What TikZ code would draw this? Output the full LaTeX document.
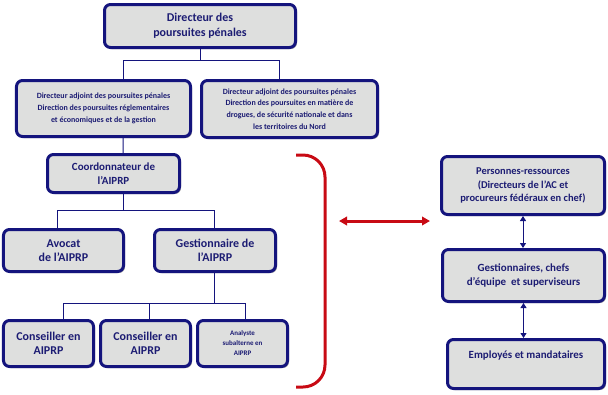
\documentclass[tikz,border=0pt]{standalone}
\usepackage{fontspec}
\setmainfont{Carlito}
\usepackage{tikz}
\usetikzlibrary{arrows.meta,shadows}
\definecolor{orgline}{RGB}{20,20,125}
\definecolor{orgtext}{RGB}{28,28,115}
\definecolor{orgfill}{RGB}{222,223,222}
\definecolor{orgred}{RGB}{200,10,20}
\newcommand{\fsz}[2]{\bfseries\fontsize{#1}{#2}\selectfont}
\tikzset{
  box/.style={draw=orgline,line width=3bp,rounded corners=6bp,fill=orgfill,text=orgtext,
    align=center,inner sep=1bp,
    drop shadow={shadow xshift=1.5bp,shadow yshift=-1.5bp,fill=black!55,opacity=0.6}}, % org box
  sz/.style 2 args={minimum width=#1,minimum height=#2},
  link/.style={orgline,line width=1bp},                                  % org line
  updown/.style={{Triangle[length=5bp,width=6bp]}-{Triangle[length=5bp,width=6bp]},orgline,line width=1bp},
  twoway/.style={{Triangle[length=8bp,width=8.5bp]}-{Triangle[length=8bp,width=8.5bp]},orgred,line width=3bp},
  bracket/.style={orgred,line width=3bp,rounded corners=22bp},
}

\begin{document}
\begin{tikzpicture}[x=1bp,y=-1bp]
  \useasboundingbox (0,0) rectangle (608,394);
  % left tree
  \node[box,sz={191bp}{43bp},font={\fsz{12}{15}}] (dir) at (200,26) {Directeur des\\poursuites pénales};
  \node[box,sz={174bp}{56bp},font={\fsz{8}{11.8}}] (dl) at (103.5,108.5)
    {Directeur adjoint des poursuites pénales\\Direction des poursuites réglementaires\\et économiques et de la gestion};
  \node[box,sz={176bp}{57bp},font={\fsz{8}{11.8}}] (dr) at (289.5,109)
    {Directeur adjoint des poursuites pénales\\Direction des poursuites en matière de\\drogues, de sécurité nationale et dans\\les territoires du Nord};
  \node[box,sz={132bp}{38bp},font={\fsz{11}{13.5}}] (co) at (113.5,173.5) {Coordonnateur de\\l’AIPRP};
  \node[box,sz={120bp}{42bp},font={\fsz{12}{14.5}}] (av) at (63.5,250.5) {Avocat\\de l’AIPRP};
  \node[box,sz={121bp}{42bp},font={\fsz{12}{14.5}}] (ge) at (215,250.5) {Gestionnaire de\\l’AIPRP};
  \node[box,sz={90bp}{46bp},font={\fsz{12}{14.5}}] (c1) at (48.5,343.5) {Conseiller en\\AIPRP};
  \node[box,sz={90bp}{46bp},font={\fsz{12}{14.5}}] (c2) at (145.5,343.5) {Conseiller en\\AIPRP};
  \node[box,sz={90bp}{46bp},font={\fsz{7}{10}}] (an) at (242.5,343.5) {Analyste\\subalterne en\\AIPRP};

  \draw[link] (dir.south) -- ++(0,11) -| ([xshift=19.5bp]dl.north);
  \draw[link] (dir.south) -- ++(0,11) -| ([xshift=-10.5bp]dr.north);
  \draw[link] ([xshift=19.5bp]dl.south) -- ([xshift=9.5bp]co.north);
  \draw[link] ([xshift=9.5bp]co.south) -- ++(0,16) -| ([xshift=-6.5bp]av.north);
  \draw[link] ([xshift=9.5bp]co.south) -- ++(0,16) -| ([xshift=-1bp]ge.north);
  \draw[link] ([xshift=-1bp]ge.south) -- ++(0,30) -| ([xshift=14.5bp]c1.north);
  \draw[link] ([xshift=-1bp]ge.south) -- ++(0,30) -| ([xshift=3.5bp]c2.north);
  \draw[link] ([xshift=-1bp]ge.south) -- ++(0,30) -| ([xshift=2.5bp]an.north);

  % bracket and link to the right
  \draw[bracket] (296,155) -- (325,155) -- (325,387) -- (296,387);
  \coordinate (bl) at (339,221);
  \coordinate (br) at (430,221);
  \draw[twoway] (bl) -- (br);

  % right column
  \node[box,sz={163bp}{58bp},font={\fsz{10.5}{13.6}}] (pr) at (523,185.5)
    {Personnes-ressources\\(Directeurs de l’AC et\\procureurs fédéraux en chef)};
  \node[box,sz={162bp}{52bp},font={\fsz{11}{14}}] (gs) at (523.5,275.5) {Gestionnaires, chefs\\d’équipe\ \ et superviseurs};
  \node[box,sz={157bp}{49bp},font={\fsz{11}{14}},text depth=18bp] (em) at (526,364) {Employés et mandataires};
  \draw[updown] (pr.south) -- (pr.south |- gs.north);
  \draw[updown] (gs.south) -- (gs.south |- em.north);
\end{tikzpicture}
\end{document}
